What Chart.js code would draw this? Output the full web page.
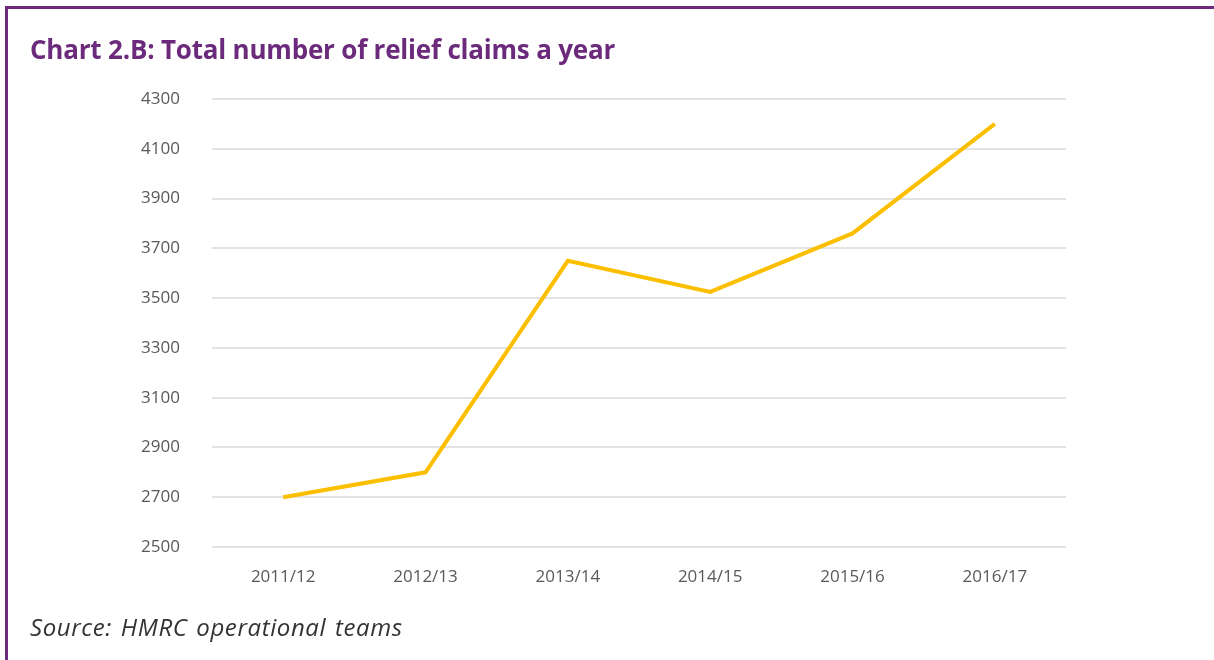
<!DOCTYPE html>
<html>
<head>
<meta charset="utf-8">
<script src="https://cdn.jsdelivr.net/npm/chart.js@4"></script>
<style>
  html, body { margin: 0; padding: 0; background: #fff; }
  #wrap { position: relative; width: 1214px; height: 660px; overflow: hidden; }
  #frame { position: absolute; left: 5px; top: 6px; right: -10px; bottom: -10px;
           border-top: 3px solid #6b2a7b; border-left: 3px solid #6b2a7b; }
  #title { position: absolute; left: 30px; top: 31px; font: bold 26px "Open Sans", sans-serif;
           color: #6b2a7b; letter-spacing: -0.2px; }
  #source { position: absolute; left: 30px; top: 610px; font: italic 24px "Open Sans", sans-serif;
            color: #333; letter-spacing: 0.6px; word-spacing: 2px; }
  #chart-box { position: absolute; left: 0; top: 0; width: 1214px; height: 660px; }
</style>
</head>
<body>
<div id="wrap">
  <div id="frame"></div>
  <div id="chart-box"><canvas id="relief-chart"></canvas></div>
  <div id="title">Chart 2.B: Total number of relief claims a year</div>
  <div id="source">Source: HMRC operational teams</div>
</div>
<script>
const years = ["2011/12", "2012/13", "2013/14", "2014/15", "2015/16", "2016/17"];
const claims = [2700, 2800, 3650, 3525, 3760, 4200];
const yMin = 2500;
const yMax = 4300;
const yStep = 200;

const tickFont = { family: "'Open Sans', sans-serif", size: 17 };

const config = {
    type: 'line',
    data: {
        labels: years,
        datasets: [{
            label: "Relief claims",
            data: claims,
            borderColor: '#fbbf00',
            backgroundColor: '#fbbf00',
            borderWidth: 4,
            pointRadius: 0,
            tension: 0
        }]
    },
    options: {
        responsive: true,
        maintainAspectRatio: false,
        animation: false,
        layout: { padding: { left: 0, right: 148, top: 99, bottom: 68 } },
        plugins: {
            legend: { display: false },
            tooltip: { enabled: false }
        },
        scales: {
            x: {
                offset: true,
                grid: { display: false },
                border: { display: false },
                ticks: { color: '#595959', font: tickFont, padding: 12, maxRotation: 0 },
                afterFit: (s) => { s.height = 45; }
            },
            y: {
                min: yMin,
                max: yMax,
                grid: { color: '#e3e3e3', lineWidth: 2, drawTicks: false },
                border: { display: false },
                ticks: { stepSize: yStep, color: '#595959', font: tickFont, padding: 32,
                         callback: (v) => String(v) },
                afterFit: (s) => { s.width = 212; }
            }
        }
    }
};

document.addEventListener('DOMContentLoaded', () => {
    new Chart("relief-chart", config);
});
</script>
</body>
</html>
